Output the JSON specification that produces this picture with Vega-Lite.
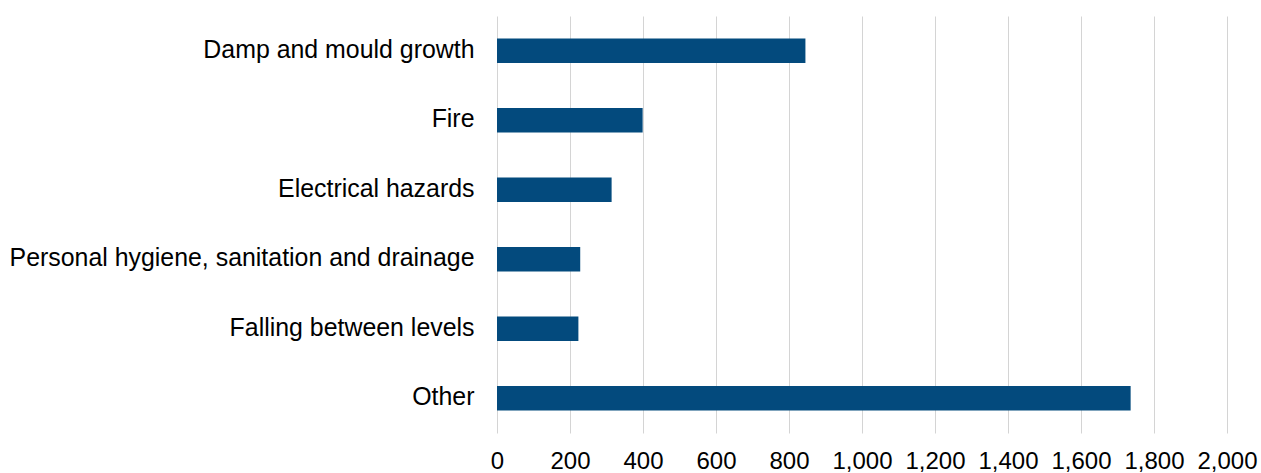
{
  "$schema": "https://vega.github.io/schema/vega-lite/v6.json",
  "width": 730,
  "height": 417,
  "autosize": {"type": "none"},
  "padding": {"left": 497, "top": 16, "right": 34, "bottom": 40},
  "background": "white",
  "config": {"view": {"stroke": null}},
  "data": {
    "values": [
      {"category": "Damp and mould growth", "count": 845},
      {"category": "Fire", "count": 399},
      {"category": "Electrical hazards", "count": 314},
      {"category": "Personal hygiene, sanitation and drainage", "count": 228},
      {"category": "Falling between levels", "count": 223},
      {"category": "Other", "count": 1736}
    ]
  },
  "mark": {"type": "bar", "color": "#034a7d"},
  "encoding": {
    "y": {
      "field": "category",
      "type": "nominal",
      "sort": null,
      "scale": {"paddingInner": 0.65, "paddingOuter": 0.325},
      "axis": {
        "title": null,
        "domain": false,
        "ticks": false,
        "grid": false,
        "labelPadding": 23,
        "labelFont": "Liberation Sans",
        "labelFontSize": 24.9,
        "labelColor": "#000000",
        "labelLimit": 600
      }
    },
    "x": {
      "field": "count",
      "type": "quantitative",
      "scale": {"domain": [0, 2000], "nice": false},
      "axis": {
        "title": null,
        "values": [0, 200, 400, 600, 800, 1000, 1200, 1400, 1600, 1800, 2000],
        "format": ",d",
        "domain": false,
        "ticks": false,
        "grid": true,
        "gridColor": "#d4d4d4",
        "gridWidth": 1,
        "labelPadding": 16,
        "labelFont": "Liberation Sans",
        "labelFontSize": 24,
        "labelColor": "#000000",
        "labelOverlap": false,
        "labelFlush": false
      }
    }
  }
}
